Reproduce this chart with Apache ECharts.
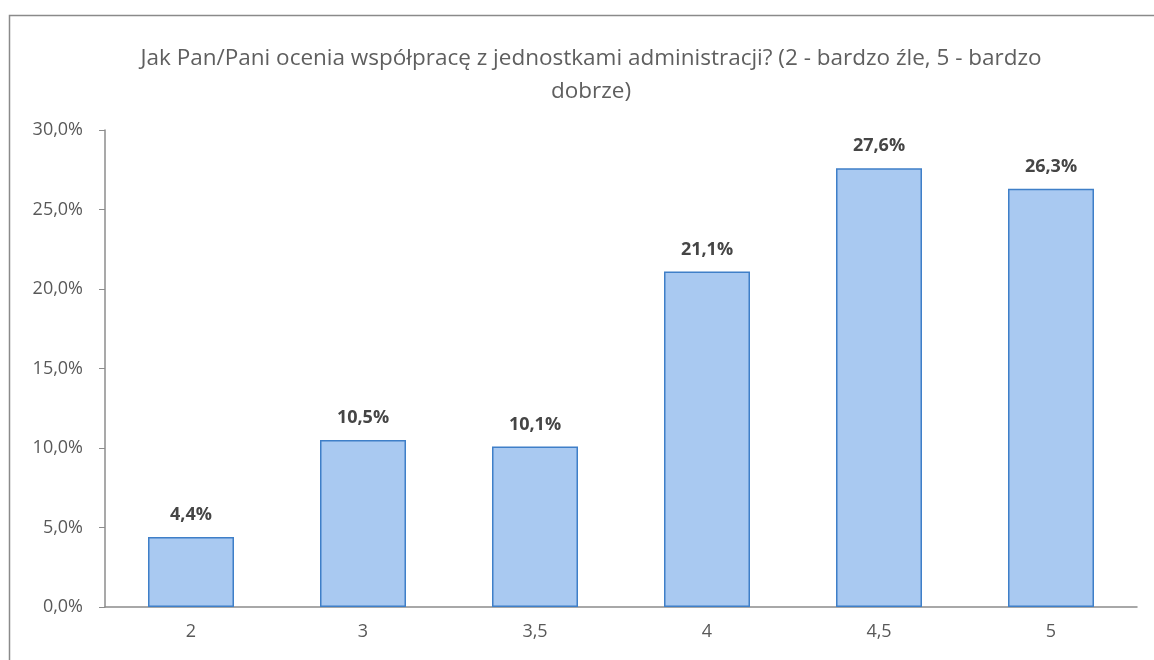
<!DOCTYPE html>
<html>
<head>
<meta charset="utf-8">
<script src="https://cdn.jsdelivr.net/npm/echarts@6/dist/echarts.min.js"></script>
<style>
  html, body { margin: 0; padding: 0; background: #fff; }
  #main { width: 1154px; height: 660px; }
</style>
</head>
<body>
<div id="main"></div>
<script>
// oceny (kategorie osi X)
var categories = ['2', '3', '3,5', '4', '4,5', '5'];
// udział odpowiedzi w %
var shares = [4.4, 10.5, 10.1, 21.1, 27.6, 26.3];
var titleLines = [
    'Jak Pan/Pani ocenia współpracę z jednostkami administracji? (2 - bardzo źle, 5 - bardzo',
    'dobrze)'
];

var fontFamily = '"Open Sans", "Liberation Sans", sans-serif';

function pct(v, digits) {
    return v.toFixed(digits).replace('.', ',') + '%';
}

var chart = echarts.init(document.getElementById('main'));

var option = {
    backgroundColor: '#fff',
    animation: false,
    title: {
        text: titleLines.join('\n'),
        left: 586,
        textAlign: 'center',
        top: 37,
        textStyle: {
            fontFamily: fontFamily,
            fontSize: 22.5,
            fontWeight: 'normal',
            color: '#5f5f5f',
            lineHeight: 33
        }
    },
    graphic: [{
        // ramka wykresu
        type: 'rect',
        shape: { x: 9.5, y: 15.5, width: 1160, height: 700 },
        style: { fill: 'none', stroke: '#8a8a8a', lineWidth: 1.5 },
        silent: true
    }],
    grid: {
        left: 105,
        right: 17,
        top: 130,
        bottom: 53
    },
    xAxis: {
        type: 'category',
        data: categories,
        axisLine: { lineStyle: { color: '#8c8c8c', width: 1.5 } },
        axisTick: { show: false },
        axisLabel: {
            margin: 16,
            fontFamily: fontFamily,
            fontSize: 18,
            color: '#595959'
        }
    },
    yAxis: {
        type: 'value',
        min: 0,
        max: 30,
        interval: 5,
        axisLine: { show: true, lineStyle: { color: '#8c8c8c', width: 1.5 } },
        axisTick: { show: true, length: 6, lineStyle: { color: '#8c8c8c' } },
        splitLine: { show: false },
        axisLabel: {
            margin: 22,
            fontFamily: fontFamily,
            fontSize: 18,
            color: '#595959',
            formatter: function (v) { return pct(v, 1); }
        }
    },
    series: [{
        type: 'bar',
        data: shares,
        barWidth: '50%',
        itemStyle: {
            color: '#a9c9f1',
            borderColor: '#3f7fc8',
            borderWidth: 1.5
        },
        label: {
            show: true,
            position: 'top',
            distance: 13,
            fontFamily: fontFamily,
            fontSize: 18,
            fontWeight: 'bold',
            color: '#454545',
            formatter: function (p) { return pct(p.value, 1); }
        }
    }]
};

chart.setOption(option);
</script>
</body>
</html>
